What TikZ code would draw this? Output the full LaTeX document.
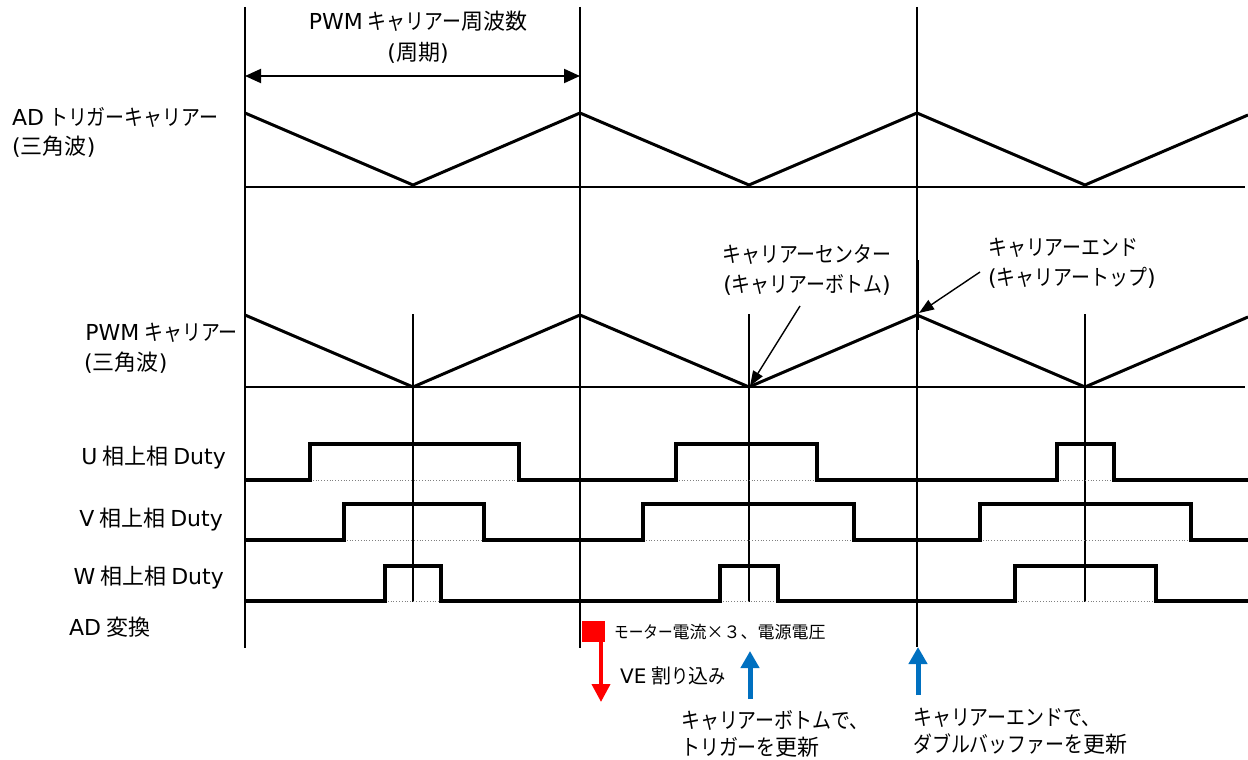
\documentclass[tikz,border=0pt]{standalone}
\usepackage{fontspec}
\setmainfont{Noto Sans CJK JP}
\newfontfamily\knf[FakeStretch=0.86]{Noto Sans CJK JP}
\newfontfamily\latf{DejaVu Sans}
\newcommand\LT[1]{{\latf #1}}
\newcommand\KN[1]{{\knf #1}}
\usetikzlibrary{arrows.meta}
\definecolor{bluearr}{HTML}{0070C0}
\definecolor{redarr}{HTML}{FF0000}
\tikzset{
  lbl/.style={font=\fontsize{22}{29}\selectfont, inner sep=0pt},
  lbltwo/.style={font=\fontsize{22}{30}\selectfont, inner sep=0pt},
  lblsmall/.style={font=\fontsize{17}{20}\selectfont, inner sep=0pt},
  thinl/.style={line width=1.4pt},
  basel/.style={line width=1.8pt},
  wave/.style={line width=3pt, line join=miter},
  duty/.style={line width=4pt, line join=miter},
  dotl/.style={gray, line width=0.8pt, dotted},
  ann/.style={line width=1.4pt, -{Triangle[length=15pt, width=11pt]}},
  dimarr/.style={line width=2pt, {Triangle[length=16pt, width=14pt]}-{Triangle[length=16pt, width=14pt]}},
  bluearrow/.style={bluearr, line width=5pt, -{Triangle[length=17pt, width=18pt]}},
  redarrow/.style={redarr, line width=4pt, -{Triangle[length=18pt, width=18pt]}},
}
\begin{document}
\begin{tikzpicture}[x=1pt, y=-1pt]
\useasboundingbox (0,0) rectangle (1248,760);
\fill[white] (0,0) rectangle (1248,760);

% main vertical lines
\coordinate (v1t) at (245,7);   \coordinate (v1b) at (245,648);
\coordinate (v2t) at (580,7);   \coordinate (v2b) at (580,648);
\coordinate (v3t) at (917,7);   \coordinate (v3b) at (917,647);
\draw[thinl] (v1t) -- (v1b);
\draw[thinl] (v2t) -- (v2b);
\draw[thinl] (v3t) -- (v3b);
\draw[line width=3pt] (917,260) -- (917,330);

% short vertical lines at carrier bottoms
\foreach \x in {413,749,1085} {
  \draw[thinl] (\x,314) -- (\x,602);
}

% period dimension arrow
\coordinate (da) at (245,76); \coordinate (db) at (580,76);
\draw[dimarr] (da) -- (db);
\node[lbl, align=center, font=\fontsize{22}{31}\selectfont] (title) at (418,37.5) {\LT{PWM} \KN{キャリアー}周波数\\\LT{(}周期\LT{)}};

% AD trigger carrier
\draw[basel] (245,187) -- (1245,187);
\draw[wave] (245,113) -- (413,185) -- (580,113) -- (749,185) -- (917,113) -- (1085,185) -- (1248,115);
\node[lbl, align=left, anchor=west] (adtrig) at (12,132.5) {\LT{AD} \KN{トリガーキャリアー}\\\LT{(}三角波\LT{)}};

% PWM carrier
\draw[basel] (245,387) -- (1245,387);
\draw[wave] (245,315) -- (413,387) -- (580,315) -- (749,387) -- (917,315) -- (1085,387) -- (1248,317);
\node[lbl, anchor=east] (pwm1) at (238,333) {\LT{PWM} \KN{キャリアー}};
\node[lbl, anchor=west] (pwm2) at (84,363) {\LT{(}三角波\LT{)}};

% annotations
\node[lbltwo, align=center] (center) at (807,270) {\KN{キャリアーセンター}\\\LT{(}\KN{キャリアーボトム}\LT{)}};
\node[lbltwo, align=left, anchor=west] (endl) at (988,263) {\KN{キャリアーエンド}\\\LT{(}\KN{キャリアートップ}\LT{)}};
\coordinate (cstart) at (800,306); \coordinate (cbot) at (750,386);
\coordinate (estart) at (980,272); \coordinate (etop) at (919,313);
\draw[ann] (cstart) -- (cbot);
\draw[ann] (estart) -- (etop);

% duty labels
\node[lbl, anchor=east] (ul) at (226,458) {\LT{U} 相上相 \LT{Duty}};
\node[lbl, anchor=east] (vl) at (223,520) {\LT{V} 相上相 \LT{Duty}};
\node[lbl, anchor=east] (wl) at (224,578) {\LT{W} 相上相 \LT{Duty}};
\node[lbl, anchor=west] (adc) at (69,627) {\LT{AD} 変換};

% dotted low levels
\foreach \a/\b in {310/519,676/817,1057/1114} { \draw[dotl] (\a,480) -- (\b,480); }
\foreach \a/\b in {344/484,643/854,980/1191} { \draw[dotl] (\a,540) -- (\b,540); }
\foreach \a/\b in {385/441,720/778,1015/1156} { \draw[dotl] (\a,601) -- (\b,601); }

% U duty
\draw[duty] (245,480) -- (310,480) -- (310,444) -- (519,444) -- (519,480) -- (676,480) -- (676,444) -- (817,444) -- (817,480) -- (1057,480) -- (1057,444) -- (1114,444) -- (1114,480) -- (1248,480);
% V duty
\draw[duty] (245,540) -- (344,540) -- (344,504) -- (484,504) -- (484,540) -- (643,540) -- (643,504) -- (854,504) -- (854,540) -- (980,540) -- (980,504) -- (1191,504) -- (1191,540) -- (1248,540);
% W duty
\draw[duty] (245,601) -- (385,601) -- (385,566) -- (441,566) -- (441,601) -- (720,601) -- (720,566) -- (778,566) -- (778,601) -- (1015,601) -- (1015,566) -- (1156,566) -- (1156,601) -- (1248,601);

% AD conversion marker
\node[fill=redarr, minimum width=23pt, minimum height=21pt, inner sep=0pt] (redsq) at (593.5,631.5) {};
\coordinate (redend) at (601,702);
\draw[redarrow] (redsq.south -| redend) -- (redend);
\node[lblsmall, anchor=west] (adtxt) at (614,632) {\KN{モーター}電流×３、電源電圧};
\node[lbl, anchor=west, font=\fontsize{20}{24}\selectfont] (ve) at (620,676) {\LT{VE} 割\KN{り}込\KN{み}};

% blue arrows
\coordinate (b1s) at (750,699); \coordinate (b1t) at (750,651);
\coordinate (b2s) at (918,695); \coordinate (b2t) at (918,647);
\draw[bluearrow] (b1s) -- (b1t);
\draw[bluearrow] (b2s) -- (b2t);
\node[lbl, align=left, anchor=west, font=\fontsize{22}{27}\selectfont] (bt) at (681,733.5) {\KN{キャリアーボトムで、}\\\KN{トリガーを}更新};
\node[lbl, align=left, anchor=west, font=\fontsize{22}{27}\selectfont] (et) at (913,731.5) {\KN{キャリアーエンドで、}\\\KN{ダブルバッファーを}更新};
\end{tikzpicture}
\end{document}
